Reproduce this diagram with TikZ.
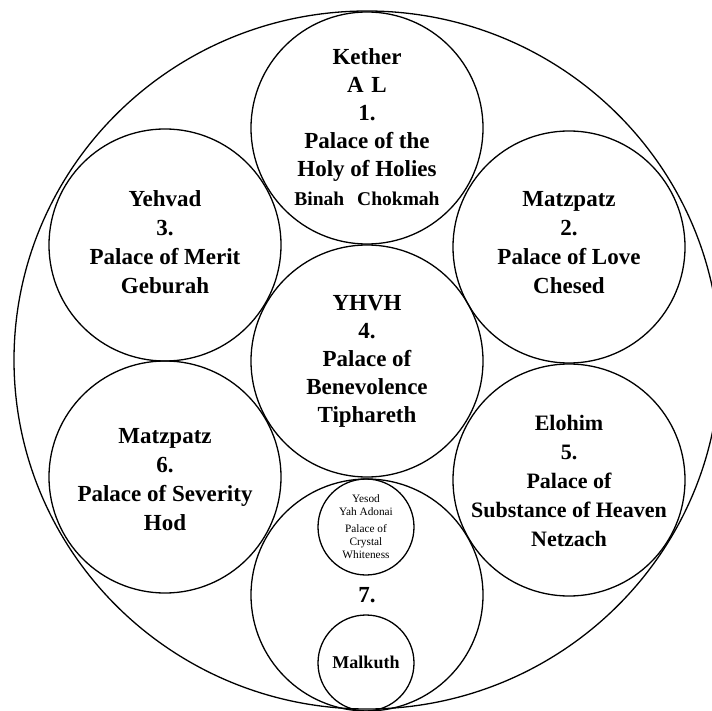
\documentclass[tikz,border=0pt]{standalone}
\usepackage{fontspec}
\setmainfont{Liberation Serif}
\begin{document}
\begin{tikzpicture}[x=1pt, y=-1pt, line width=1.3pt,
  palace/.style={draw, circle, minimum size=232pt, inner sep=0pt},
  gate/.style={draw, circle, minimum size=96pt, inner sep=0pt},
  words/.style={align=center, font=\bfseries\fontsize{23}{29}\selectfont, inner sep=0pt}]
\useasboundingbox (0,0) rectangle (712,711);
\draw (367,360) ellipse (353 and 349);

\node[palace] (1) at (367,128) {};
\node[palace] (2) at (569,247) {};
\node[palace] (3) at (165,245) {};
\node[palace] (4) at (367,361) {};
\node[palace] (5) at (569,480) {};
\node[palace] (6) at (165,477) {};
\node[palace] (7) at (367,595) {};
\node[gate] (yesod) at (366,527) {};
\node[gate] (malkuth) at (366,663) {};

\node[words, font=\bfseries\fontsize{23}{28}\selectfont] (t1) at (367,115) {Kether\\A\,\,L\\1.\\Palace of the\\Holy of Holies};
\node[words, font=\bfseries\fontsize{19.5}{22}\selectfont] (t1b) at (367,199) {Binah\,\,\,\,Chokmah};
\node[words] (t2) at (569,243) {Matzpatz\\2.\\Palace of Love\\Chesed};
\node[words] (t3) at (165,242) {Yehvad\\3.\\Palace of Merit\\Geburah};
\node[words, font=\bfseries\fontsize{23}{28}\selectfont] (t4) at (367,361) {YHVH\\4.\\Palace of\\Benevolence\\Tiphareth};
\node[words, font=\bfseries\fontsize{22}{29}\selectfont] (t5) at (569,481) {Elohim\\5.\\Palace of\\Substance of Heaven\\Netzach};
\node[words] (t6) at (165,480) {Matzpatz\\6.\\Palace of Severity\\Hod};
\node[words] (t7) at (367,595) {7.};
\node[align=center, font=\fontsize{11.3}{13}\selectfont, inner sep=0pt] (ty) at (366,527) {Yesod\\Yah Adonai\\[4pt]Palace of\\Crystal\\Whiteness};
\node[words, font=\bfseries\fontsize{18}{20}\selectfont] (tm) at (366,662) {Malkuth};
\end{tikzpicture}
\end{document}
